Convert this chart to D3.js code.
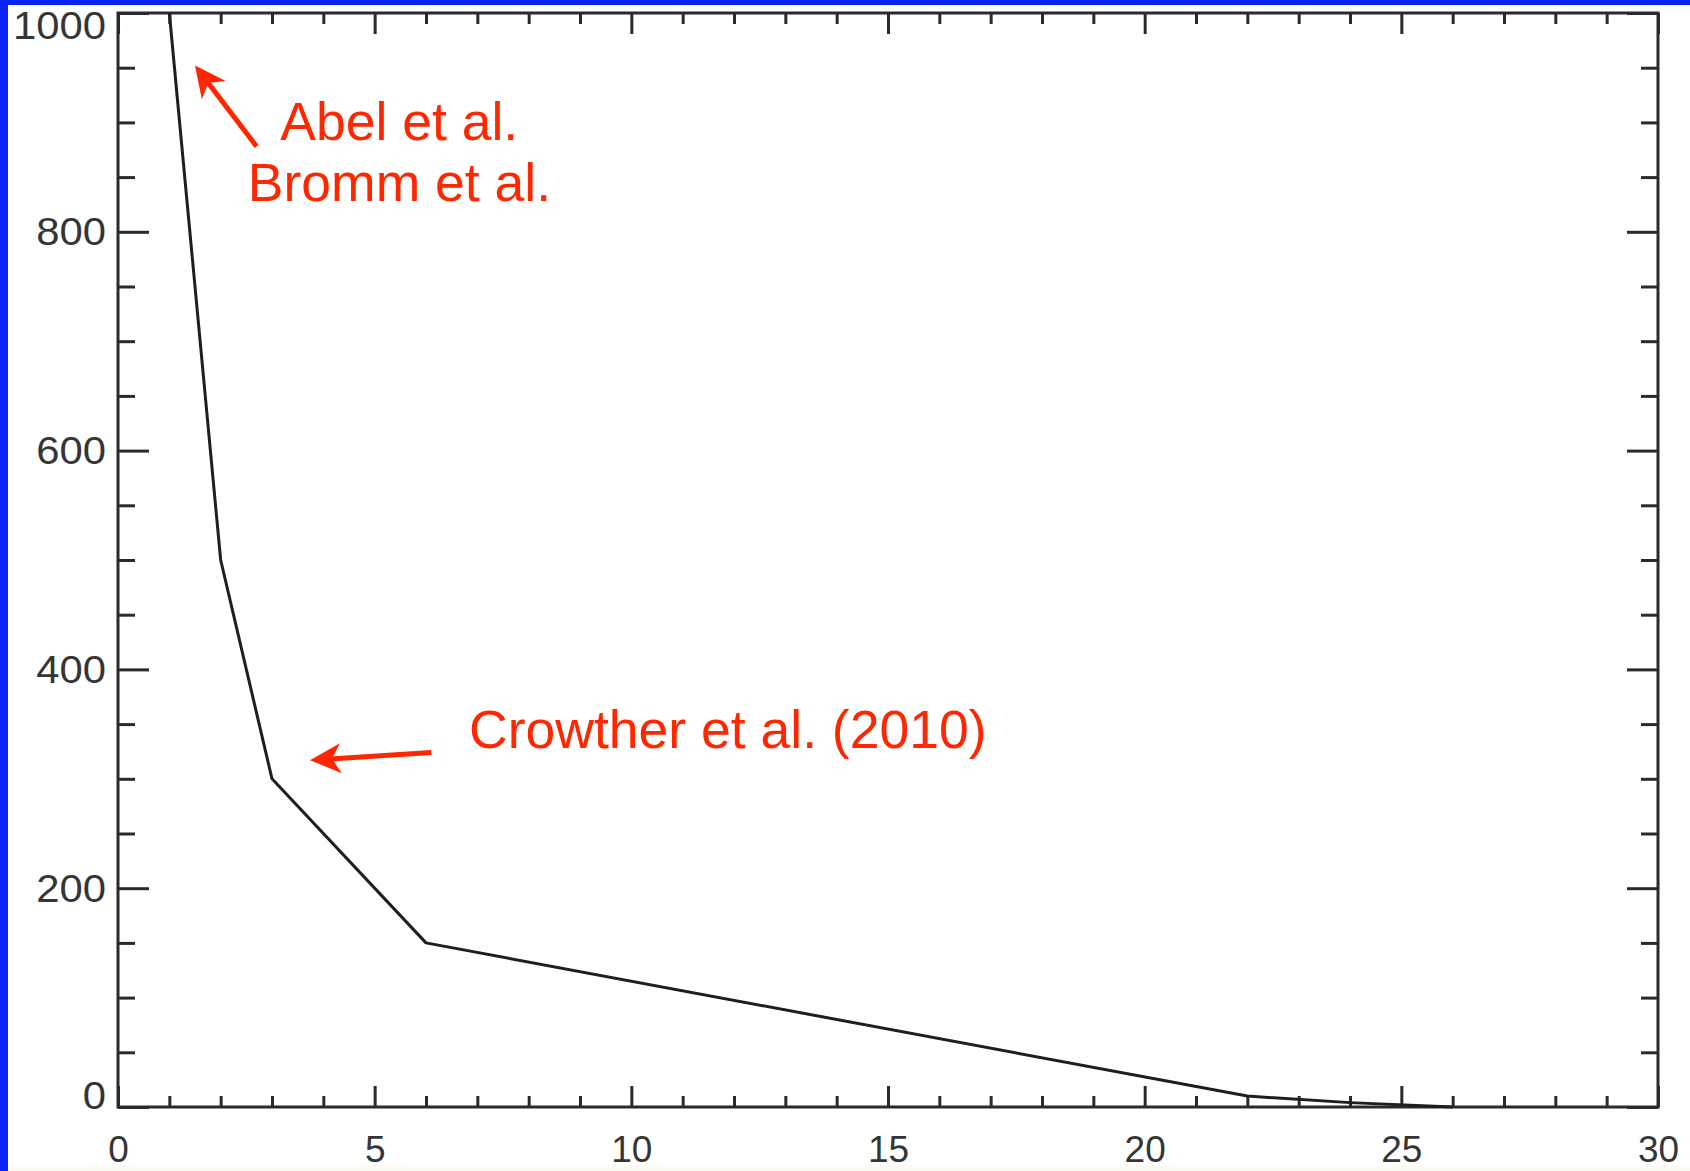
<!DOCTYPE html>
<html>
<head>
<meta charset="utf-8">
<script src="https://cdn.jsdelivr.net/npm/d3@7"></script>
<style>
  html, body { margin: 0; padding: 0; background: #ffffff; }
  svg { display: block; }
</style>
</head>
<body>
<script>
// Curve points (x, y)
const xValues = [1, 2, 3, 6, 22, 24, 26];
const yValues = [1000, 500, 300, 150, 10, 4, 0];

// Axis ticks
const xMajorTicks = [0, 5, 10, 15, 20, 25, 30];
const xMinorTicks = d3.range(0, 31, 1).filter(v => v % 5 !== 0);
const yMajorTicks = [0, 200, 400, 600, 800, 1000];
const yMinorTicks = d3.range(0, 1001, 50).filter(v => v % 200 !== 0);

// Annotations in data units: label text, anchor, arrow tail and tip
const noteLabels = ["Abel et al.", "Bromm et al.", "Crowther et al. (2010)"];
const noteAnchors = [[3.16, 884], [2.53, 828], [6.84, 328]];
const arrowTails = [[2.7, 878], [6.1, 324]];
const arrowTips = [[1.5, 952], [3.74, 317]];

const W = 1690, H = 1171;
const plot = { left: 118, right: 1658, top: 13, bottom: 1107 };
const ink = "#2a2a2a";
const labelInk = "#353535";
const red = "#ff2600";
const sans = "'Liberation Sans', Arial, Helvetica, sans-serif";

const svg = d3.select("body").append("svg")
  .attr("width", W).attr("height", H);

svg.append("rect").attr("width", W).attr("height", H).attr("fill", "#ffffff");
svg.append("rect").attr("x", 0).attr("y", H - 6).attr("width", W).attr("height", 6)
  .attr("fill", "#fbfbf3");

const x = d3.scaleLinear().domain([0, 30]).range([plot.left, plot.right]);
const y = d3.scaleLinear().domain([0, 1000]).range([plot.bottom, plot.top]);

const majX = 21, minX = 11, majY = 31, minY = 17;

function styleAxis(g) {
  g.select(".domain").remove();
  g.selectAll(".tick line").attr("stroke", ink).attr("stroke-width", 3);
  g.selectAll(".tick text")
    .attr("fill", labelInk)
    .attr("font-family", sans)
    .attr("font-size", 37);
}

// Bottom axis with labels
svg.append("g").attr("transform", `translate(0,${plot.bottom})`)
  .call(d3.axisBottom(x).tickValues(xMajorTicks).tickSize(-majX).tickPadding(29)
    .tickFormat(d3.format("d")))
  .call(styleAxis);
svg.append("g").attr("transform", `translate(0,${plot.bottom})`)
  .call(d3.axisBottom(x).tickValues(xMinorTicks).tickSize(-minX).tickFormat(""))
  .call(styleAxis);

// Top axis (ticks only)
svg.append("g").attr("transform", `translate(0,${plot.top})`)
  .call(d3.axisTop(x).tickValues(xMajorTicks).tickSize(-majX).tickFormat(""))
  .call(styleAxis);
svg.append("g").attr("transform", `translate(0,${plot.top})`)
  .call(d3.axisTop(x).tickValues(xMinorTicks).tickSize(-minX).tickFormat(""))
  .call(styleAxis);

// Left axis with labels: digits drawn slightly wide; end labels nudged inward
const yLabelStretch = 1.1;
const yLabelGap = 12;
const leftAxis = svg.append("g").attr("transform", `translate(${plot.left},0)`)
  .call(d3.axisLeft(y).tickValues(yMajorTicks).tickSize(-majY).tickPadding(yLabelGap)
    .tickFormat(d3.format("d")))
  .call(styleAxis);
leftAxis.selectAll(".tick text")
  .attr("font-size", 38)
  .attr("x", -yLabelGap / yLabelStretch)
  .attr("transform", `scale(${yLabelStretch},1)`)
  .attr("y", d => d === 1000 ? 13 : d === 0 ? -11 : 1);
svg.append("g").attr("transform", `translate(${plot.left},0)`)
  .call(d3.axisLeft(y).tickValues(yMinorTicks).tickSize(-minY).tickFormat(""))
  .call(styleAxis);

// Right axis (ticks only)
svg.append("g").attr("transform", `translate(${plot.right},0)`)
  .call(d3.axisRight(y).tickValues(yMajorTicks).tickSize(-majY).tickFormat(""))
  .call(styleAxis);
svg.append("g").attr("transform", `translate(${plot.right},0)`)
  .call(d3.axisRight(y).tickValues(yMinorTicks).tickSize(-minY).tickFormat(""))
  .call(styleAxis);

// Frame
svg.append("rect")
  .attr("x", plot.left).attr("y", plot.top)
  .attr("width", plot.right - plot.left).attr("height", plot.bottom - plot.top)
  .attr("fill", "none").attr("stroke", ink).attr("stroke-width", 3);

// Curve
const pts = xValues.map((v, i) => [v, yValues[i]]);
svg.append("path")
  .datum(pts)
  .attr("fill", "none")
  .attr("stroke", "#1e1e1e")
  .attr("stroke-width", 3)
  .attr("stroke-linejoin", "round")
  .attr("d", d3.line().x(d => x(d[0])).y(d => y(d[1])));

// Annotation arrows
arrowTails.forEach((tail, i) => {
  const tip = arrowTips[i];
  const x0 = x(tail[0]), y0 = y(tail[1]);
  const x1 = x(tip[0]), y1 = y(tip[1]);
  const ang = Math.atan2(y1 - y0, x1 - x0);
  const ux = Math.cos(ang), uy = Math.sin(ang);
  const px = -uy, py = ux;
  const headLen = 31, halfW = 15, notch = 22;
  const bx = x1 - ux * headLen, by = y1 - uy * headLen;
  const nx = x1 - ux * notch, ny = y1 - uy * notch;
  svg.append("line")
    .attr("x1", x0).attr("y1", y0).attr("x2", nx + ux * 2).attr("y2", ny + uy * 2)
    .attr("stroke", red).attr("stroke-width", 5);
  svg.append("path")
    .attr("fill", red)
    .attr("d", `M${x1},${y1} L${bx + px * halfW},${by + py * halfW} L${nx},${ny} L${bx - px * halfW},${by - py * halfW} Z`);
});

// Annotation labels
noteLabels.forEach((t, i) => {
  svg.append("text")
    .attr("x", x(noteAnchors[i][0]))
    .attr("y", y(noteAnchors[i][1]))
    .attr("fill", red)
    .attr("font-family", sans)
    .attr("font-size", 53.5)
    .text(t);
});

// Blue slide border on the left and top
svg.append("rect").attr("x", 0).attr("y", 0).attr("width", 8).attr("height", H).attr("fill", "#0a22f5");
svg.append("rect").attr("x", 0).attr("y", 0).attr("width", W).attr("height", 5).attr("fill", "#0a22f5");
</script>
</body>
</html>
